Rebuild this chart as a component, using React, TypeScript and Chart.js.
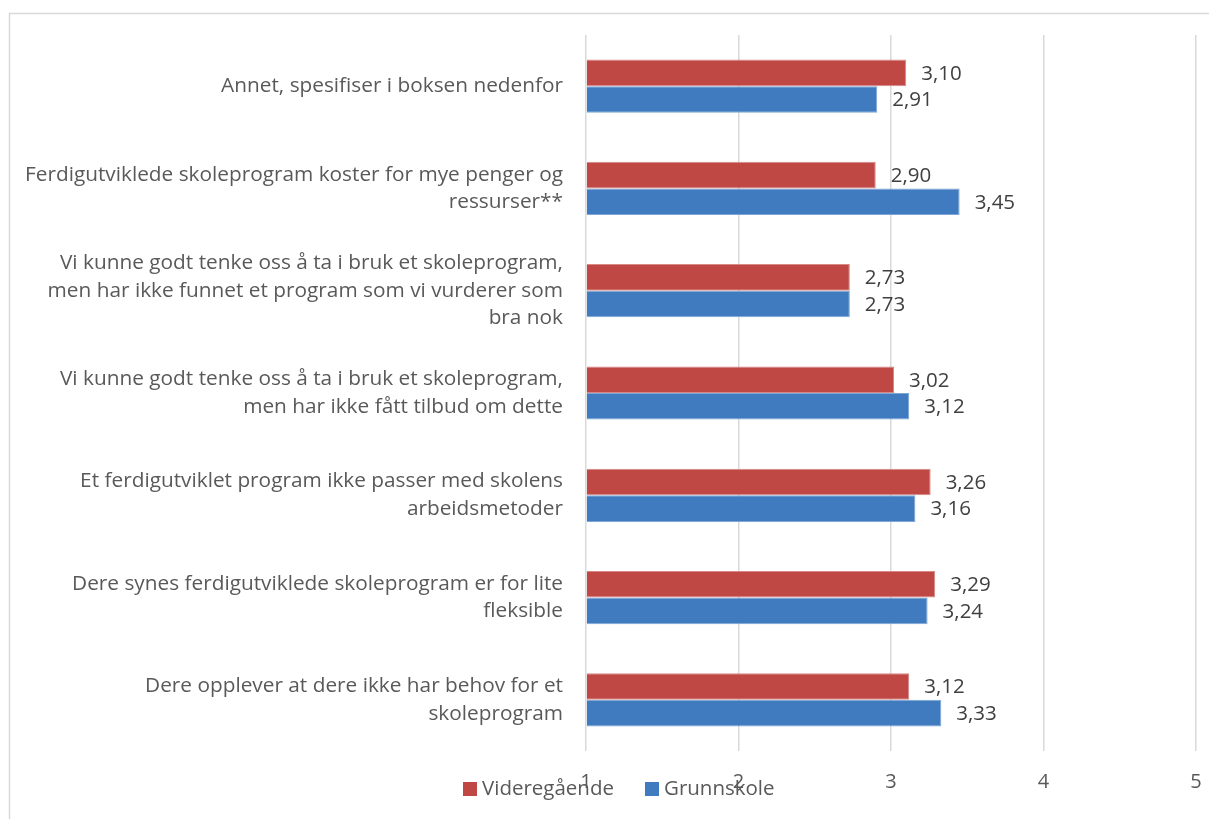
import React, { useEffect, useRef } from "react";
import { Chart, registerables } from "chart.js";

Chart.register(...registerables);

const categories: string[][] = [
  ["Annet, spesifiser i boksen nedenfor"],
  ["Ferdigutviklede skoleprogram koster for mye penger og", "ressurser**"],
  ["Vi kunne godt tenke oss å ta i bruk et skoleprogram,", "men har ikke funnet et program som vi vurderer som", "bra nok"],
  ["Vi kunne godt tenke oss å ta i bruk et skoleprogram,", "men har ikke fått tilbud om dette"],
  ["Et ferdigutviklet program ikke passer med skolens", "arbeidsmetoder"],
  ["Dere synes ferdigutviklede skoleprogram er for lite", "fleksible"],
  ["Dere opplever at dere ikke har behov for et", "skoleprogram"],
];

const videregaende: number[] = [3.1, 2.9, 2.73, 3.02, 3.26, 3.29, 3.12];
const grunnskole: number[] = [2.91, 3.45, 2.73, 3.12, 3.16, 3.24, 3.33];

const seriesNames = ["Videregående", "Grunnskole"];
const seriesColors = ["#BF4744", "#3F7BBE"];
const seriesBorders = ["#D88986", "#7FA6D6"];

const FONT = "'Open Sans', 'Liberation Sans', sans-serif";

export default function App() {
  const ref = useRef<HTMLCanvasElement | null>(null);

  useEffect(() => {
    if (!ref.current) return;

    const framePlugin = {
      id: "frame",
      beforeDraw(chart: any) {
        const ctx = chart.ctx;
        ctx.save();
        ctx.fillStyle = "#ffffff";
        ctx.fillRect(0, 0, chart.width, chart.height);
        ctx.strokeStyle = "#D9D9D9";
        ctx.lineWidth = 1.5;
        ctx.strokeRect(9.5, 13.5, 1400, 1000);
        ctx.restore();
      },
    };

    const valueLabels = {
      id: "valueLabels",
      afterDatasetsDraw(chart: any) {
        const ctx = chart.ctx;
        ctx.save();
        ctx.font = `20.5px ${FONT}`;
        ctx.fillStyle = "#404040";
        ctx.textAlign = "left";
        ctx.textBaseline = "middle";
        chart.data.datasets.forEach((ds: any, di: number) => {
          const meta = chart.getDatasetMeta(di);
          meta.data.forEach((bar: any, i: number) => {
            const v = ds.data[i] as number;
            ctx.fillText(v.toFixed(2).replace(".", ","), bar.x + 15, bar.y + 1);
          });
        });
        ctx.restore();
      },
    };

    const customLegend = {
      id: "customLegend",
      afterDraw(chart: any) {
        const ctx = chart.ctx;
        ctx.save();
        ctx.font = `20.5px ${FONT}`;
        ctx.textBaseline = "middle";
        ctx.textAlign = "left";
        const items = [
          { x: 463, label: seriesNames[0], color: seriesColors[0] },
          { x: 645, label: seriesNames[1], color: seriesColors[1] },
        ];
        items.forEach((it) => {
          ctx.fillStyle = it.color;
          ctx.fillRect(it.x, 782, 14, 14);
          ctx.fillStyle = "#595959";
          ctx.fillText(it.label, it.x + 19, 789);
        });
        ctx.restore();
      },
    };

    const chart = new Chart(ref.current, {
      type: "bar",
      data: {
        labels: categories,
        datasets: [
          {
            label: seriesNames[0],
            data: videregaende,
            backgroundColor: seriesColors[0],
            borderColor: seriesBorders[0],
            borderWidth: 1,
            base: 1,
            categoryPercentage: 0.52,
            barPercentage: 1,
          },
          {
            label: seriesNames[1],
            data: grunnskole,
            backgroundColor: seriesColors[1],
            borderColor: seriesBorders[1],
            borderWidth: 1,
            base: 1,
            categoryPercentage: 0.52,
            barPercentage: 1,
          },
        ],
      },
      options: {
        indexAxis: "y",
        animation: false,
        responsive: false,
        maintainAspectRatio: false,
        layout: { padding: { top: 35, right: 13, left: 0, bottom: 0 } },
        plugins: {
          legend: { display: false },
          tooltip: { enabled: false },
        },
        scales: {
          x: {
            min: 1,
            max: 5,
            ticks: {
              stepSize: 1,
              color: "#595959",
              font: { family: FONT, size: 20 },
              padding: 19,
            },
            grid: { color: "#D9D9D9", lineWidth: 1.5, drawTicks: false },
            border: { display: false },
            afterFit: (s: any) => {
              s.height = 68;
              s.paddingLeft = 0;
              s.paddingRight = 0;
            },
          },
          y: {
            ticks: {
              color: "#595959",
              font: { family: FONT, size: 20.8, lineHeight: 1.32 },
              padding: 23,
              autoSkip: false,
            },
            grid: { display: false, drawTicks: false },
            border: { display: false },
            afterFit: (s: any) => {
              s.width = 586;
              s.paddingTop = 0;
              s.paddingBottom = 0;
            },
          },
        },
      },
      plugins: [framePlugin, valueLabels, customLegend],
    } as any);

    return () => chart.destroy();
  }, []);

  return (
    <div style={{ position: "absolute", left: 0, top: 0, width: 1209, height: 819 }}>
      <canvas ref={ref} width={1209} height={819} style={{ display: "block" }} />
    </div>
  );
}
